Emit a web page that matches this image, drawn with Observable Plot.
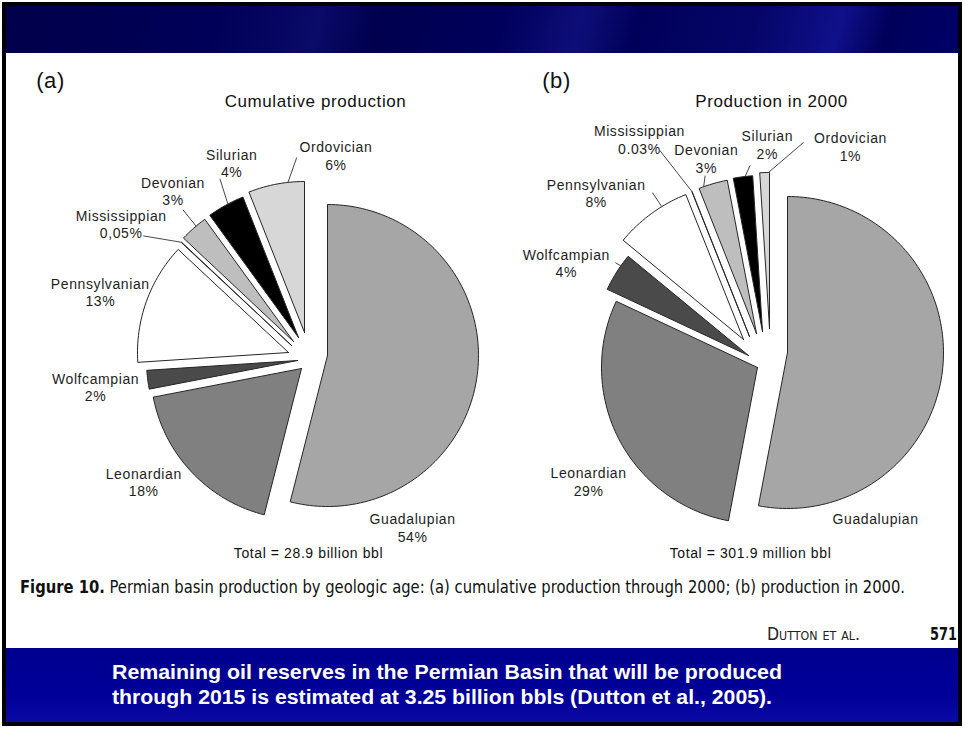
<!DOCTYPE html>
<html>
<head>
<meta charset="utf-8">
<script src="https://cdn.jsdelivr.net/npm/d3@7"></script>
<script src="https://cdn.jsdelivr.net/npm/@observablehq/plot@0.6"></script>
<style>
  html, body { margin: 0; padding: 0; background: #fff; }
  #page { position: relative; width: 965px; height: 730px; overflow: hidden; background: #fff;
          font-family: "Liberation Sans", Arial, sans-serif; }
  #banner { position: absolute; left: 6px; top: 6px; width: 952px; height: 47px;
    background: linear-gradient(105deg, #00004a 0%, #000058 22%, #0a0a68 33%, #00004e 39%, #00005c 52%,
      #0e0e78 60%, #00005a 66%, #050568 78%, #10108a 87%, #00005a 92%, #000068 100%); }
  #band { position: absolute; left: 6px; top: 648px; width: 952px; height: 74px;
    background: linear-gradient(to bottom, #00008e 0%, #000098 60%, #0a0aa4 100%); }
  #frame { position: absolute; left: 2px; top: 2px; width: 960px; height: 724px;
    border: 4px solid #000; box-sizing: border-box; pointer-events: none; }
  #chart { position: absolute; left: 6px; top: 53px; }
  #chart svg text { letter-spacing: 0.6px; }
  .fit { position: absolute; white-space: nowrap; transform-origin: 0 50%; }
  #caption { left: 20px; top: 577px; font-size: 17px; color: #111;
    font-family: "Liberation Sans Narrow", "DejaVu Sans Condensed", "Liberation Sans", sans-serif; }
  #caption b { font-weight: bold; }
  #author { left: 767px; top: 624px; font-size: 17px; color: #222; font-variant: small-caps;
    font-family: "Liberation Sans Narrow", "DejaVu Sans Condensed", "Liberation Sans", sans-serif; }
  #pageno { left: 930px; top: 623px; font-size: 18px; font-weight: bold; color: #111;
    font-family: "Liberation Sans Narrow", "DejaVu Sans Condensed", "Liberation Sans", sans-serif; }
  .note { left: 112px; font-size: 20px; font-weight: bold; color: #fff;
    font-family: "Liberation Sans", Arial, sans-serif; }
  #note1 { top: 661px; }
  #note2 { top: 686px; }
</style>
</head>
<body>
<div id="page">
  <div id="banner"></div>
  <div id="chart"></div>
  <div id="caption" class="fit"><b>Figure 10.</b> Permian basin production by geologic age: (a) cumulative production through 2000; (b) production in 2000.</div>
  <div id="author" class="fit">Dutton et al.</div>
  <div id="pageno" class="fit">571</div>
  <div id="band"></div>
  <div id="note1" class="fit note">Remaining oil reserves in the Permian Basin that will be produced</div>
  <div id="note2" class="fit note">through 2015 is estimated at 3.25 billion bbls (Dutton et al., 2005).</div>
  <div id="frame"></div>
</div>
<script>
// ---------------- data ----------------
const categories = ["Guadalupian", "Leonardian", "Wolfcampian", "Pennsylvanian",
                    "Mississippian", "Devonian", "Silurian", "Ordovician"];
const cumulativeShare = [54, 18, 2, 13, 0.05, 3, 4, 6];
const cumulativeLabels = ["54%", "18%", "2%", "13%", "0,05%", "3%", "4%", "6%"];
const production2000Share = [53, 29, 4, 8, 0.03, 3, 2, 1];
const production2000Labels = ["", "29%", "4%", "8%", "0.03%", "3%", "2%", "1%"];
const panelTags = ["(a)", "(b)"];
const pieTitles = ["Cumulative production", "Production in 2000"];
const totals = ["Total = 28.9 billion bbl", "Total = 301.9 million bbl"];

// ---------------- styles / layout ----------------
const sliceGrays = ["#a6a6a6", "#808080", "#4a4a4a", "#ffffff", "#ffffff", "#bebebe", "#000000", "#d7d7d7"];
const layout = [
  { cx: 309, cy: 355, r: 151,
    tag: [50, 80], title: [315, 101], total: [308, 553],
    explode: { Guadalupian: [18, 0], Leonardian: [-8, 13], Wolfcampian: [-12, 5], Pennsylvanian: [-21, -3],
               Mississippian: [-18, -10], Devonian: [-16, -14], Silurian: [-11, -18], Ordovician: [-5, -23] },
    // [angle nudge from slice middle, radius from pie centre]
    label: { Guadalupian: [51.9, 200.5], Leonardian: [6, 208.4], Wolfcampian: [-1, 216.2], Pennsylvanian: [-2.8, 218.6],
             Mississippian: [-8.2, 229.7], Devonian: [1.7, 213.8], Silurian: [6.8, 207.8], Ordovician: [18.3, 201.8] },
    // [start nudge on slice arc, end angle nudge, end radius]
    leader: { Ordovician: [4.5, 7.1, 198.4], Silurian: [0.9, 1.9, 198.1], Devonian: [1.2, 0.4, 192.9],
              Mississippian: [0, -7.4, 204.8] } },
  { cx: 770, cy: 350, r: 156,
    tag: [556, 80], title: [771, 101], total: [750, 553],
    explode: { Guadalupian: [17, 2], Leonardian: [-13, 17], Wolfcampian: [-22, 5], Pennsylvanian: [-27, -11],
               Mississippian: [-21, -14], Devonian: [-14, -17], Silurian: [-8, -19], Ordovician: [-1, -22] },
    label: { Guadalupian: [52.6, 198.1], Leonardian: [-8.7, 224.2], Wolfcampian: [-9.1, 222.2], Pennsylvanian: [-11.8, 235],
             Mississippian: [-10.2, 248.4], Devonian: [-2.3, 202.4], Silurian: [6.3, 206], Ordovician: [23.2, 219.1] },
    leader: { Ordovician: [1.4, 10.8, 210.6], Silurian: [0.8, 0.9, 186.1], Devonian: [-3.6, -4.3, 186.7],
              Mississippian: [0, -7.3, 228.3], Pennsylvanian: [4.5, -0.7, 197.2], Wolfcampian: [2.8, -2.8, 178.2] } }
];

const pies = [
  { id: "a", share: cumulativeShare, pct: cumulativeLabels },
  { id: "b", share: production2000Share, pct: production2000Labels }
];

// ---------------- geometry from data ----------------
const rad = a => a * Math.PI / 180;
const polar = (x, y, r, a) => [x + r * Math.sin(rad(a)), y - r * Math.cos(rad(a))];

const sliceRows = [], leaderRows = [], labelRows = [], tagRows = [], titleRows = [], totalRows = [];
pies.forEach((p, pi) => {
  const g = layout[pi];
  const sum = d3.sum(p.share);
  let cum = 0;
  categories.forEach((cat, i) => {
    const a0 = 360 * cum / sum; cum += p.share[i]; const a1 = 360 * cum / sum;
    const mid = (a0 + a1) / 2;
    const [dx, dy] = g.explode[cat];
    const ax = g.cx + dx, ay = g.cy + dy;
    const key = p.id + "-" + cat;
    const n = Math.max(1, Math.ceil((a1 - a0) / 1.5));
    sliceRows.push({ key, cat, x: ax, y: ay });
    for (let k = 0; k <= n; k++) {
      const [x, y] = polar(ax, ay, g.r, a0 + (a1 - a0) * k / n);
      sliceRows.push({ key, cat, x, y });
    }
    sliceRows.push({ key, cat, x: ax, y: ay });

    const [ln, lr] = g.label[cat];
    const [lx, ly] = polar(g.cx, g.cy, lr, mid + ln);
    labelRows.push({ x: lx, y: ly, text: p.pct[i] ? cat + "\n" + p.pct[i] : cat });

    const L = g.leader[cat];
    if (L) {
      const [x1, y1] = polar(ax, ay, g.r, mid + L[0]);
      const [x2, y2] = polar(g.cx, g.cy, L[2], mid + L[1]);
      leaderRows.push({ x1, y1, x2, y2 });
    }
  });
  tagRows.push({ x: g.tag[0], y: g.tag[1], text: panelTags[pi] });
  titleRows.push({ x: g.title[0], y: g.title[1], text: pieTitles[pi] });
  totalRows.push({ x: g.total[0], y: g.total[1], text: totals[pi] });
});

const chart = Plot.plot({
  width: 952, height: 512, margin: 0,
  x: { domain: [6, 958], range: [0, 952], axis: null },
  y: { domain: [53, 565], range: [0, 512], axis: null },
  color: { type: "ordinal", domain: categories, range: sliceGrays },
  style: { background: "transparent", fontFamily: "'Liberation Sans', Arial, sans-serif" },
  marks: [
    Plot.line(sliceRows, { x: "x", y: "y", z: "key", fill: "cat", stroke: "#262626", strokeWidth: 1, strokeLinejoin: "round" }),
    Plot.link(leaderRows, { x1: "x1", y1: "y1", x2: "x2", y2: "y2", stroke: "#333", strokeWidth: 0.9 }),
    Plot.text(labelRows, { x: "x", y: "y", text: "text", fontSize: 14, lineHeight: 1.25, fill: "#1e1e1e" }),
    Plot.text(tagRows, { x: "x", y: "y", text: "text", fontSize: 22, fill: "#111" }),
    Plot.text(titleRows, { x: "x", y: "y", text: "text", fontSize: 17, fill: "#111" }),
    Plot.text(totalRows, { x: "x", y: "y", text: "text", fontSize: 14, fill: "#111" })
  ]
});
document.getElementById("chart").appendChild(chart);

// fit HTML text blocks to the widths in the reference
function fit() {
  const targets = { caption: 885, author: 93, pageno: 27, note1: 670, note2: 660 };
  for (const [id, w] of Object.entries(targets)) {
    const el = document.getElementById(id);
    el.style.transform = "none";
    const cw = el.getBoundingClientRect().width;
    if (cw > 0) el.style.transform = `scaleX(${w / cw})`;
  }
}
fit();
if (document.fonts && document.fonts.ready) document.fonts.ready.then(fit);
</script>
</body>
</html>
